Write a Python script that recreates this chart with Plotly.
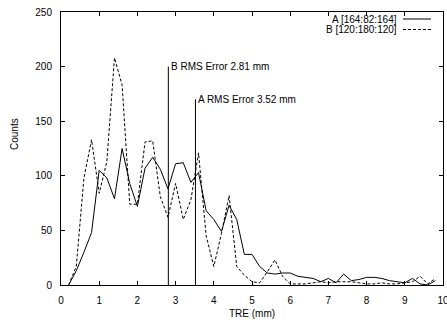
import plotly.graph_objects as go

# TRE bin centres (mm)
tre = [round(0.2 * k, 1) for k in range(1, 50)]

counts_a = [0, 13, 30, 48, 105, 98, 79, 125, 93, 72,
            107, 117, 106, 88, 111, 112, 94, 103, 68, 60,
            49, 73, 60, 28, 28, 17, 11, 10, 11, 11,
            8, 7, 6, 3, 6, 2, 10, 4, 5, 7,
            7, 6, 4, 3, 2, 6, 1, 0, 4]

counts_b = [0, 17, 98, 133, 84, 113, 208, 183, 74, 74,
            131, 132, 81, 62, 93, 60, 78, 121, 45, 17,
            47, 82, 17, 9, 3, 2, 12, 23, 8, 1,
            1, 1, 2, 3, 2, 3, 3, 3, 2, 1,
            1, 2, 1, 1, 2, 3, 8, 1, 6]

series_names = ["A [164:82:164]", "B [120:180:120]"]

rms_names = ["B", "A"]
rms_values = [2.81, 3.52]
rms_heights = [200, 170]

x_ticks = [0, 1, 2, 3, 4, 5, 6, 7, 8, 9, 10]
y_ticks = [0, 50, 100, 150, 200, 250]

FONT = "Liberation Sans, Arial, Helvetica, sans-serif"
W, H = 447, 323
L, R, T, B = 61, 4, 12, 38
pw, ph = W - L - R, H - T - B

def px_x(px):
    return (px - L) / pw

def px_y(py):
    return (H - B - py) / ph

fig = go.Figure()
fig.add_trace(go.Scatter(x=tre, y=counts_a, mode="lines", name=series_names[0],
                         line=dict(color="black", width=1), showlegend=False))
fig.add_trace(go.Scatter(x=tre, y=counts_b, mode="lines", name=series_names[1],
                         line=dict(color="black", width=1, dash="3px,2px"), showlegend=False))

annotations = []
for nm, v, h in zip(rms_names, rms_values, rms_heights):
    fig.add_trace(go.Scatter(x=[v, v], y=[0, h], mode="lines",
                             line=dict(color="black", width=1), showlegend=False,
                             hoverinfo="skip"))
    annotations.append(dict(x=v, y=h, xref="x", yref="y", text=f"{nm} RMS Error {v:.2f} mm",
                            showarrow=False, xanchor="left", yanchor="middle", xshift=1,
                            font=dict(family=FONT, size=10, color="black")))

# key (gnuplot style: text right-justified, sample to the right)
key_rows = [19, 29.5]
dashes = ["solid", "3px,2px"]
shapes = []
for nm, ry, d in zip(series_names, key_rows, dashes):
    annotations.append(dict(x=px_x(399), y=px_y(ry), xref="paper", yref="paper", text=nm,
                            showarrow=False, xanchor="right", yanchor="middle",
                            font=dict(family=FONT, size=10, color="black")))
    shapes.append(dict(type="line", xref="paper", yref="paper",
                       x0=px_x(403), x1=px_x(431), y0=px_y(ry), y1=px_y(ry),
                       line=dict(color="black", width=1, dash=d)))

annotations.append(dict(x=0.5, y=px_y(313), xref="paper", yref="paper", text="TRE (mm)",
                        showarrow=False, xanchor="center", yanchor="middle",
                        font=dict(family=FONT, size=10, color="black")))
annotations.append(dict(x=px_x(14), y=px_y(134), xref="paper", yref="paper", text="Counts",
                        showarrow=False, xanchor="center", yanchor="middle", textangle=-90,
                        font=dict(family=FONT, size=10, color="black")))

axis_common = dict(showgrid=False, zeroline=False, showline=True, linecolor="black",
                   linewidth=1, mirror="ticks", ticks="inside", ticklen=4, tickwidth=1,
                   tickcolor="black", tickfont=dict(family=FONT, size=10, color="black"),
                   automargin=False, ticklabeloverflow="allow")

fig.update_layout(
    width=W, height=H,
    margin=dict(l=L, r=R, t=T, b=B, pad=0, autoexpand=False),
    paper_bgcolor="white", plot_bgcolor="white",
    xaxis=dict(range=[0, 10], tickvals=x_ticks, ticklabelstandoff=6, **axis_common),
    yaxis=dict(range=[0, 250], tickvals=y_ticks, ticklabelstandoff=6, **axis_common),
    annotations=annotations, shapes=shapes,
    showlegend=False,
)

fig.write_html("out.html", config={"displayModeBar": False},
               post_script="document.body.style.margin='0';document.body.style.padding='0';")
